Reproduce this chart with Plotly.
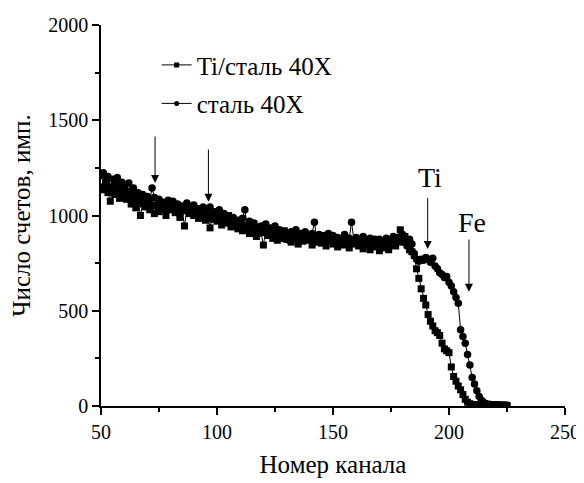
import plotly.graph_objects as go

channels = list(range(50, 226))

ti_steel = [
    1150, 1135, 1160, 1120, 1075, 1140, 1110, 1125, 1090, 1130,
    1100, 1085, 1120, 1060, 1095, 1040, 1075, 1000, 1060, 1045,
    1070, 1030, 1055, 1010, 1050, 1020, 1065, 1035, 1000, 1045,
    1030, 1060, 1015, 1040, 990, 1025, 945, 1035, 1010, 1050,
    1000, 1030, 985, 1020, 1005, 975, 1015, 935, 990, 1010,
    970, 995, 950, 985, 960, 1000, 940, 975, 955, 930,
    965, 920, 950, 940, 905, 945, 925, 890, 935, 910,
    845, 915, 895, 930, 880, 905, 870, 900, 885, 920,
    875, 895, 860, 905, 880, 850, 890, 865, 900, 870,
    885, 845, 880, 860, 895, 855, 875, 840, 870, 885,
    850, 870, 835, 880, 860, 845, 875, 830, 865, 850,
    870, 840, 860, 825, 855, 845, 820, 860, 835, 850,
    815, 845, 830, 860, 820, 850, 870, 840, 880, 925,
    860, 890, 845, 820, 810, 790, 720, 670, 615, 565,
    530, 480, 445, 420, 395, 385, 370, 330, 300, 290,
    280, 205, 155, 130, 105, 85, 60, 35, 20, 12,
    8, 6, 5, 5, 4, 4, 5, 4, 3, 4,
    3, 4, 3, 3, 3, 3,
]

steel = [
    1210, 1225, 1180, 1205, 1150, 1190, 1165, 1200, 1140, 1175,
    1150, 1130, 1170, 1115, 1145, 1090, 1120, 1080, 1110, 1060,
    1100, 1075, 1145, 1095, 1050, 1085, 1040, 1070, 1030, 1080,
    1045, 1075, 1020, 1060, 1005, 1050, 1030, 1065, 1015, 1040,
    1055, 1010, 1035, 990, 1045, 1000, 1030, 1045, 980, 1020,
    1005, 1030, 965, 1010, 985, 995, 955, 990, 945, 975,
    950, 985, 1030, 940, 970, 925, 960, 935, 905, 945,
    920, 955, 900, 935, 910, 945, 890, 925, 880, 915,
    900, 870, 915, 885, 925, 880, 905, 870, 915, 890,
    875, 905, 965, 880, 900, 860, 895, 870, 905, 880,
    895, 865, 885, 850, 875, 900, 860, 880, 965, 870,
    885, 850, 875, 890, 855, 870, 880, 845, 875, 860,
    875, 840, 865, 880, 850, 870, 890, 860, 885, 870,
    900, 860, 840, 875, 850, 800, 770, 760, 770, 765,
    780, 770, 755, 775, 735, 720, 700, 690, 675, 680,
    650, 630, 600, 570, 540, 400, 365, 330, 270, 215,
    150, 115, 80, 50, 30, 18, 12, 9, 8, 7,
    6, 6, 5, 5, 5, 4,
]

series_names = ["Ti/сталь 40X", "сталь 40X"]
x_ticks = [50, 100, 150, 200, 250]
y_ticks = [0, 500, 1000, 1500, 2000]

# arrows: (channel, tip value, tail value)
arrows = [(73.3, 1171, 1423), (96.3, 1072, 1354), (190.8, 824, 1099), (208.6, 600, 882)]
labels = [("Ti", 191.8, 1197), ("Fe", 209.8, 961)]

FONT = "Liberation Serif"

fig = go.Figure()
fig.add_trace(go.Scatter(x=channels, y=ti_steel, mode="lines+markers",
                         line=dict(color="black", width=1),
                         marker=dict(symbol="square", size=7, color="black"),
                         showlegend=False))
fig.add_trace(go.Scatter(x=channels, y=steel, mode="lines+markers",
                         line=dict(color="black", width=1),
                         marker=dict(symbol="circle", size=7.5, color="black"),
                         showlegend=False))
# legend entries
fig.add_trace(go.Scatter(x=[None], y=[None], mode="lines+markers", name=series_names[0],
                         legendgroup="a",
                         line=dict(color="black", width=1),
                         marker=dict(symbol="square", size=5, color="black")))
fig.add_trace(go.Scatter(x=[None], y=[None], mode="lines+markers", name=series_names[1],
                         legendgroup="b",
                         line=dict(color="black", width=1),
                         marker=dict(symbol="circle", size=5, color="black")))

annotations = []
for cx, tip, tail in arrows:
    annotations.append(dict(x=cx, y=tip, ax=cx, ay=tail, xref="x", yref="y",
                            axref="x", ayref="y", text="", showarrow=True,
                            arrowhead=2, arrowsize=1.6, arrowwidth=1, arrowcolor="black"))
for t, cx, v in labels:
    annotations.append(dict(x=cx, y=v, xref="x", yref="y", text=t, showarrow=False,
                            font=dict(family=FONT, size=28, color="black")))

axis_common = dict(showline=True, linecolor="black", linewidth=1.5, ticks="outside",
                   ticklen=7, tickwidth=1.5, tickcolor="black", showgrid=False,
                   zeroline=False, mirror=False, automargin=False,
                   tickfont=dict(family=FONT, size=20, color="black"))

fig.update_layout(
    width=584, height=475,
    margin=dict(l=93, r=27, t=17, b=77),
    paper_bgcolor="white", plot_bgcolor="white",
    font=dict(family=FONT, color="black"),
    xaxis=dict(range=[50, 250], tickvals=x_ticks,
               minor=dict(dtick=25, ticklen=4, tickwidth=1.5, ticks="outside", tickcolor="black"),
               title=dict(text="Номер канала", font=dict(family=FONT, size=25), standoff=14),
               **axis_common),
    yaxis=dict(range=[0, 2000], tickvals=y_ticks,
               minor=dict(dtick=250, ticklen=4, tickwidth=1.5, ticks="outside", tickcolor="black"),
               title=dict(text="Число счетов, имп.", font=dict(family=FONT, size=25), standoff=12),
               **axis_common),
    legend=dict(x=0.12, y=0.955, xanchor="left", yanchor="top",
                bgcolor="rgba(0,0,0,0)", borderwidth=0, tracegroupgap=3,
                font=dict(family=FONT, size=25, color="black")),
    annotations=annotations,
)

fig.write_html("out.html")
